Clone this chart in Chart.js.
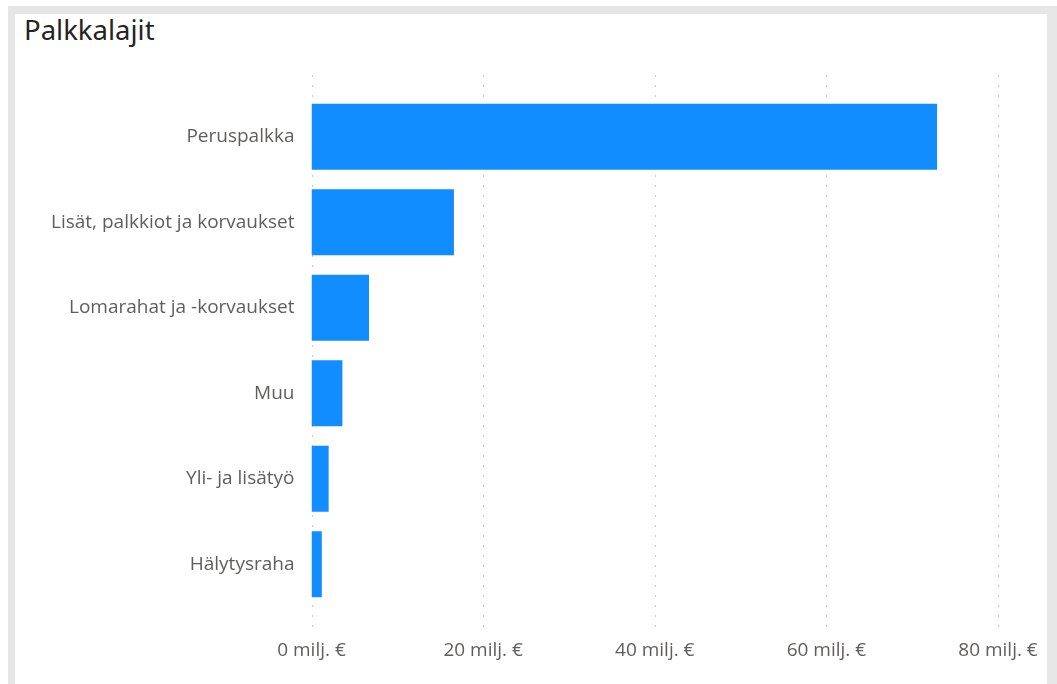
<!DOCTYPE html>
<html>
<head>
<meta charset="utf-8">
<script src="https://cdn.jsdelivr.net/npm/chart.js@4"></script>
<style>
  html, body { margin: 0; padding: 0; background: #fff; }
  body { width: 1057px; height: 684px; position: relative; overflow: hidden; }
  .frame {
    position: absolute; left: 8px; top: 6px; width: 1032px; height: 672px;
    border-style: solid; border-color: #e6e6e6;
    border-width: 8px 10px 3px 7px;
  }
  .title {
    position: absolute; left: 24px; top: 11px; line-height: normal;
    font-family: "Noto Sans", sans-serif; font-size: 27.5px; color: #252423;
  }
  canvas { position: absolute; left: 0; top: 0; }
</style>
</head>
<body>
<div class="frame"></div>
<div class="title">Palkkalajit</div>
<canvas id="palkka-chart" width="1057" height="684"></canvas>
<script>
// palkkalajit (milj. €)

const categories = [
  'Peruspalkka',
  'Lisät, palkkiot ja korvaukset',
  'Lomarahat ja -korvaukset',
  'Muu',
  'Yli- ja lisätyö',
  'Hälytysraha'
];
const values = [72.9, 16.6, 6.7, 3.6, 2.0, 1.2];
const tickValues = [0, 20, 40, 60, 80];

// dotted grid lines that run a bit past the bars, like the original
const dottedGrid = {
  id: 'dottedGrid',
  beforeDatasetsDraw(chart) {
    const ctx = chart.ctx;
    const x = chart.scales.x;
    ctx.save();
    ctx.strokeStyle = '#c8c8c8';
    ctx.lineWidth = 1;
    ctx.setLineDash([2, 8]);
    tickValues.forEach(v => {
      const px = Math.round(x.getPixelForValue(v)) + 0.5;
      ctx.beginPath();
      ctx.moveTo(px, 75);
      ctx.lineTo(px, 628);
      ctx.stroke();
    });
    ctx.restore();
  }
};

const palkkaData = {
  labels: categories,
  datasets: [{
    data: values,
    backgroundColor: '#118dff',
    borderWidth: 0,
    categoryPercentage: 1,
    barPercentage: 0.773
  }]
};

const palkkaConfig = {
  type: 'bar',
  data: palkkaData,
  plugins: [dottedGrid],
  options: {
    indexAxis: 'y',
    responsive: false,
    animation: false,
    layout: { padding: { top: 94, right: 59, left: 0, bottom: 0 } },
    plugins: {
      legend: { display: false },
      tooltip: { enabled: false }
    },
    scales: {
      x: {
        min: 0,
        max: 80,
        afterFit(scale) {
          scale.height = 77;
          scale.paddingLeft = 0;
          scale.paddingRight = 0;
        },
        afterBuildTicks(scale) { scale.ticks = tickValues.map(v => ({ value: v })); },
        grid: { display: false },
        border: { display: false },
        ticks: {
          padding: 24,
          color: '#605e5c',
          font: { family: 'Open Sans', size: 19 },
          callback: v => v + ' milj. €'
        }
      },
      y: {
        afterFit(scale) { scale.width = 311.5; },
        grid: { display: false },
        border: { display: false },
        ticks: {
          padding: 9,
          color: '#605e5c',
          font: { family: 'Open Sans', size: 19 }
        }
      }
    }
  }
};

var palkkaChart = new Chart(
  document.getElementById('palkka-chart'),
  palkkaConfig
);
</script>
</body>
</html>
